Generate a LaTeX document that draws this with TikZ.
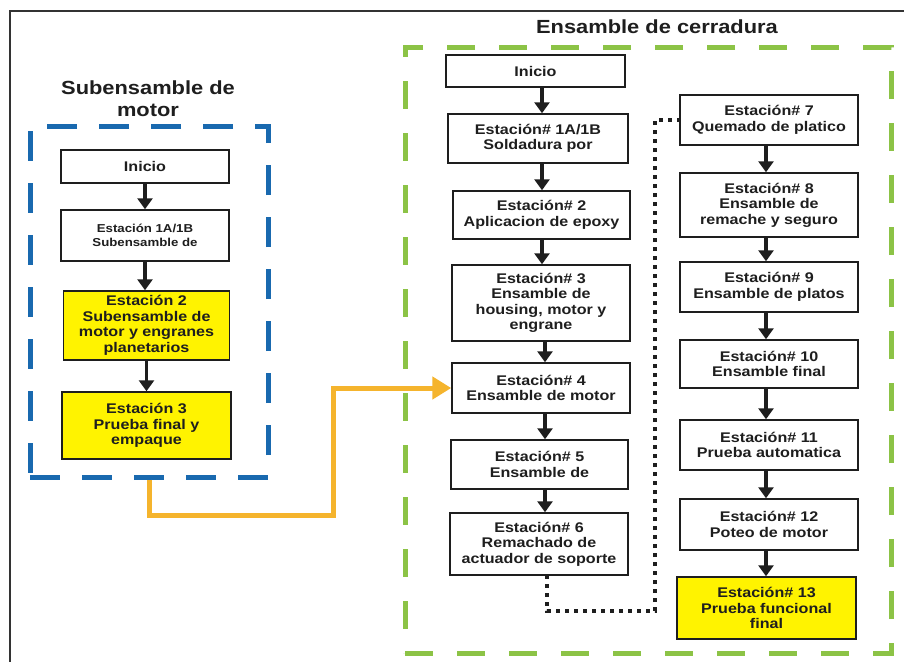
\documentclass[tikz,border=0pt]{standalone}
\usepackage{fontspec}
\setmainfont[FakeStretch=1.15]{Liberation Sans}
\usetikzlibrary{arrows.meta}
\definecolor{frameblue}{RGB}{25,105,175}
\definecolor{framegreen}{RGB}{140,195,70}
\definecolor{flowgold}{RGB}{245,180,45}
\definecolor{hiyellow}{RGB}{255,243,0}
\definecolor{ink}{RGB}{30,30,30}
\begin{document}
\begin{tikzpicture}[x=1pt,y=-1pt,
  stepbox/.style={draw=ink, line width=1.5pt, fill=white, align=center,
    inner sep=0pt, text=ink,
    font=\fontsize{14}{15.5}\selectfont\bfseries},
  hibox/.style={stepbox, fill=hiyellow},
  flow/.style={draw=ink, line width=3.5pt, -{Triangle[width=15pt,length=11pt]}},
  dotline/.style={draw=ink, line width=4pt, dash pattern=on 4pt off 5pt},
  goldflow/.style={draw=flowgold, line width=5pt, -{Triangle[width=22pt,length=19pt]}},
  title/.style={align=center, text=ink, font=\fontsize{19}{22}\selectfont\bfseries}]

\useasboundingbox (0,0) rectangle (904,662);
\fill[white] (0,0) rectangle (904,662);
\draw[line width=2pt, black!80] (904,11) -- (10,11) -- (10,662);

% group frames
\node[draw=frameblue, line width=5pt, dash pattern=on 30pt off 22pt,
  minimum width=238pt, minimum height=351pt, inner sep=0pt] (lframe) at (149,301.5) {};
\node[draw=framegreen, line width=5pt, dash pattern=on 28pt off 24pt,
  minimum width=486pt, minimum height=606pt, inner sep=0pt] (gframe) at (648,350) {};

\node[title] (ltitle) at (148,99) {Subensamble de\\motor};
\node[title] (rtitle) at (657,27) {Ensamble de cerradura};

% motor sub-assembly
\node[stepbox, minimum width=168pt, minimum height=33pt] (linicio) at (145,166.5) {Inicio};
\node[stepbox, minimum width=168pt, minimum height=51pt,
  font=\fontsize{11.5}{14}\selectfont\bfseries] (l1) at (145,235.5) {Estación 1A/1B\\Subensamble de};
\node[hibox, minimum width=166pt, minimum height=69pt] (l2) at (146.5,325.5) {Estación 2\\Subensamble de\\motor y engranes\\planetarios};
\node[hibox, minimum width=169pt, minimum height=67pt] (l3) at (146.5,425.5) {Estación 3\\Prueba final y\\empaque};

\draw[flow] (linicio) -- (l1);
\draw[flow] (l1) -- (l1 |- l2.north);
\draw[flow] (l2) -- (l2 |- l3.north);

% lock assembly, first column
\node[stepbox, minimum width=179pt, minimum height=32pt] (rinicio) at (535.5,71) {Inicio};
\node[stepbox, minimum width=180pt, minimum height=49pt] (r1) at (538,138.5) {Estación\# 1A/1B\\Soldadura por};
\node[stepbox, minimum width=177pt, minimum height=48pt] (r2) at (541.5,215) {Estación\# 2\\Aplicacion de epoxy};
\node[stepbox, minimum width=178pt, minimum height=76pt] (r3) at (541,303) {Estación\# 3\\Ensamble de\\housing, motor y\\engrane};
\node[stepbox, minimum width=178pt, minimum height=50pt] (r4) at (541,388) {Estación\# 4\\Ensamble de motor};
\node[stepbox, minimum width=177pt, minimum height=49pt] (r5) at (539.5,464.5) {Estación\# 5\\Ensamble de};
\node[stepbox, minimum width=178pt, minimum height=62pt] (r6) at (539,544) {Estación\# 6\\Remachado de\\actuador de soporte};

\draw[flow] (rinicio.south -| 542,0) -- (r1.north -| 542,0);
\draw[flow] (r1.south -| 542,0) -- (r2.north -| 542,0);
\draw[flow] (r2.south -| 542,0) -- (r3.north -| 542,0);
\draw[flow] (r3.south -| 545,0) -- (r4.north -| 545,0);
\draw[flow] (r4.south -| 545,0) -- (r5.north -| 545,0);
\draw[flow] (r5.south -| 545,0) -- (r6.north -| 545,0);

% lock assembly, second column
\node[stepbox, minimum width=178pt, minimum height=50pt] (r7) at (769,120) {Estación\# 7\\Quemado de platico};
\node[stepbox, minimum width=178pt, minimum height=64pt] (r8) at (769,205) {Estación\# 8\\Ensamble de\\remache y seguro};
\node[stepbox, minimum width=178pt, minimum height=50pt] (r9) at (769,287) {Estación\# 9\\Ensamble de platos};
\node[stepbox, minimum width=178pt, minimum height=48pt] (r10) at (769,364) {Estación\# 10\\Ensamble final};
\node[stepbox, minimum width=178pt, minimum height=50pt] (r11) at (769,445) {Estación\# 11\\Prueba automatica};
\node[stepbox, minimum width=178pt, minimum height=51pt] (r12) at (769,524.5) {Estación\# 12\\Poteo de motor};
\node[hibox, minimum width=179pt, minimum height=62pt] (r13) at (766.5,608) {Estación\# 13\\Prueba funcional\\final};

\draw[flow] (r7.south -| 766,0) -- (r8.north -| 766,0);
\draw[flow] (r8.south -| 766,0) -- (r9.north -| 766,0);
\draw[flow] (r9.south -| 766,0) -- (r10.north -| 766,0);
\draw[flow] (r10.south -| 766,0) -- (r11.north -| 766,0);
\draw[flow] (r11.south -| 766,0) -- (r12.north -| 766,0);
\draw[flow] (r12.south -| 766,0) -- (r13.north -| 766,0);

% dotted link between the two columns
\coordinate (dstart) at (547,575);
\coordinate (dlow) at (547,611);
\coordinate (dright) at (655,611);
\coordinate (dtop) at (655,120);
\draw[dotline] (dstart) -- (dlow) -- (dright) -- (dtop) -- (r7.west);

% motor sub-assembly feeds station 4
\coordinate (gbend) at (333,515);
\draw[goldflow] (lframe.south) |- (gbend) |- (r4.west);
\end{tikzpicture}
\end{document}
